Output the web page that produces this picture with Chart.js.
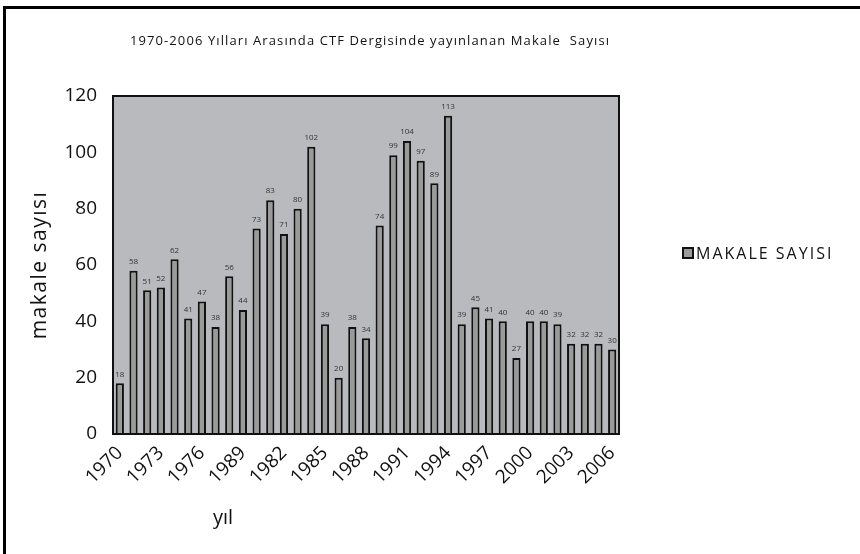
<!DOCTYPE html>
<html>
<head>
<meta charset="utf-8">
<script src="https://cdn.jsdelivr.net/npm/chart.js@4"></script>
<style>
    html, body { margin: 0; padding: 0; background: #fff; }
    #wrap { width: 860px; height: 554px; position: relative; }
</style>
</head>
<body>
<div id="wrap"><canvas id="chart" width="860" height="554"></canvas></div>
<script>
// years as printed on the original axis (index 9 reads 1989 there)
const years = ['1970', '1971', '1972', '1973', '1974', '1975', '1976', '1977', '1978', '1989',
    '1980', '1981', '1982', '1983', '1984', '1985', '1986', '1987', '1988', '1989',
    '1990', '1991', '1992', '1993', '1994', '1995', '1996', '1997', '1998', '1999',
    '2000', '2001', '2002', '2003', '2004', '2005', '2006'];
const articleCounts = [18, 58, 51, 52, 62, 41, 47, 38, 56, 44,
    73, 83, 71, 80, 102, 39, 20, 38, 34, 74,
    99, 104, 97, 89, 113, 39, 45, 41, 40, 27,
    40, 40, 39, 32, 32, 32, 30];
const seriesName = 'MAKALE SAYISI';
const chartTitle = '1970-2006 Yılları Arasında CTF Dergisinde yayınlanan Makale  Sayısı';
const yTitle = 'makale sayısı';
const xTitle = 'yıl';
const yTicks = [0, 20, 40, 60, 80, 100, 120];

const FONT = '"Open Sans", "DejaVu Sans", sans-serif';
const PLOT_BG = '#b9babd';
const BAR_FILL = '#9a9a9a';

// Frame, background, value labels, titles and legend
const decorPlugin = {
    id: 'decor',
    beforeDraw(chart) {
        const ctx = chart.ctx;
        const area = chart.chartArea;
        ctx.save();
        // outer frame (left + top only, as cropped in the original)
        ctx.fillStyle = '#000';
        ctx.fillRect(3, 6, 3, 548);
        ctx.fillRect(3, 6, 857, 3);
        // plot background
        ctx.fillStyle = PLOT_BG;
        ctx.fillRect(area.left, area.top, area.right - area.left, area.bottom - area.top);
        ctx.restore();
    },
    afterDatasetsDraw(chart) {
        const ctx = chart.ctx;
        const area = chart.chartArea;
        ctx.save();
        // plot frame
        ctx.strokeStyle = '#111';
        ctx.lineWidth = 2;
        ctx.strokeRect(area.left, area.top, area.right - area.left, area.bottom - area.top);

        // value labels over bars
        ctx.fillStyle = '#333';
        ctx.font = '8px ' + FONT;
        ctx.textAlign = 'center';
        ctx.textBaseline = 'bottom';
        chart.getDatasetMeta(0).data.forEach((bar, i) => {
            ctx.fillText(String(articleCounts[i]), bar.x, bar.y - 5);
        });

        // chart title, centred over the plot
        ctx.fillStyle = '#111';
        ctx.font = '13px ' + FONT;
        ctx.textBaseline = 'middle';
        ctx.letterSpacing = '1.1px';
        ctx.fillText(chartTitle, (area.left + area.right) / 2 + 4, 41);

        // x axis title
        ctx.letterSpacing = '0px';
        ctx.font = '20px ' + FONT;
        ctx.fillText(xTitle, area.left + 110, 518);

        // y axis title
        ctx.save();
        ctx.translate(40, (area.top + area.bottom) / 2);
        ctx.rotate(-Math.PI / 2);
        ctx.letterSpacing = '1.5px';
        ctx.font = '21px ' + FONT;
        ctx.fillText(yTitle, 0, 0);
        ctx.restore();

        // legend
        const lx = area.right + 64;
        const ly = 253;
        ctx.fillStyle = BAR_FILL;
        ctx.fillRect(lx, ly - 5, 10, 10);
        ctx.strokeStyle = '#111';
        ctx.lineWidth = 2;
        ctx.strokeRect(lx, ly - 5, 10, 10);
        ctx.fillStyle = '#111';
        ctx.font = '16px ' + FONT;
        ctx.textAlign = 'left';
        ctx.letterSpacing = '2px';
        ctx.fillText(seriesName, lx + 13, ly + 1);
        ctx.restore();
    }
};

new Chart(document.getElementById('chart'), {
    type: 'bar',
    data: {
        labels: years,
        datasets: [{
            label: seriesName,
            data: articleCounts,
            backgroundColor: BAR_FILL,
            borderColor: '#111',
            borderWidth: 2,
            barPercentage: 0.6,
            categoryPercentage: 1.0
        }]
    },
    options: {
        responsive: false,
        animation: false,
        layout: {
            padding: { left: 0, top: 96, right: 241, bottom: 60 }
        },
        plugins: {
            legend: { display: false },
            title: { display: false },
            tooltip: { enabled: false }
        },
        scales: {
            x: {
                grid: { display: false, drawTicks: false },
                border: { display: false },
                ticks: {
                    autoSkip: false,
                    minRotation: 45,
                    maxRotation: 45,
                    padding: 8,
                    color: '#111',
                    font: { family: FONT, size: 19 },
                    callback: function(value, index) {
                        return index % 3 === 0 ? years[index] : '';
                    }
                },
                afterFit(scale) { scale.height = 60; }
            },
            y: {
                min: 0,
                max: 120,
                afterBuildTicks(scale) {
                    scale.ticks = yTicks.map(v => ({ value: v }));
                },
                grid: { display: false, drawTicks: false },
                border: { display: false },
                ticks: {
                    padding: 16,
                    color: '#111',
                    font: { family: FONT, size: 19 }
                },
                afterFit(scale) { scale.width = 113; }
            }
        }
    },
    plugins: [decorPlugin]
});
</script>
</body>
</html>
